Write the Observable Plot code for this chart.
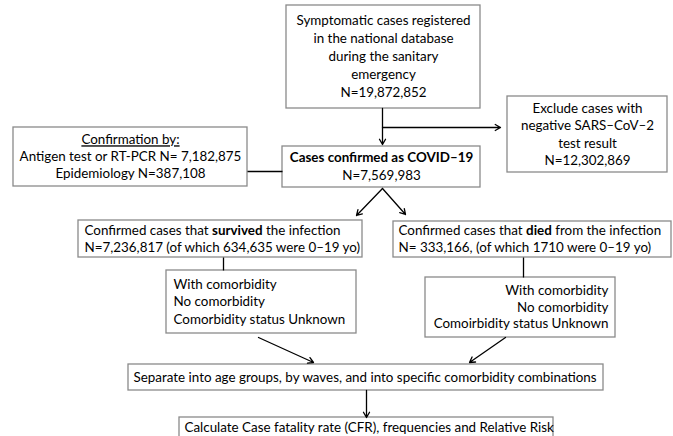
<!DOCTYPE html>
<html>
<head>
<meta charset="utf-8">
<script src="https://cdn.jsdelivr.net/npm/d3@7"></script>
<script src="https://cdn.jsdelivr.net/npm/@observablehq/plot@0.6"></script>
<style>
  html, body { margin: 0; padding: 0; background: white; }
  #chart { width: 673px; height: 436px; overflow: hidden; }
</style>
</head>
<body>
<div id="chart"></div>
<script>
// ---- chart text (data) ----
const topLines = ["Symptomatic cases registered", "in the national database", "during the sanitary", "emergency", "N=19,872,852"];
const excludeLines = ["Exclude cases with", "negative SARS–CoV–2", "test result", "N=12,302,869"];
const confirmByLines = ["Confirmation by:", "Antigen test or RT-PCR N= 7,182,875", "Epidemiology N=387,108"];
const confirmedLines = ["Cases confirmed as COVID–19", "N=7,569,983"];
const survivedLines = ["Confirmed cases that survived the infection", "N=7,236,817 (of which 634,635 were 0–19 yo)"];
const diedLines = ["Confirmed cases that died from the infection", "N= 333,166, (of which 1710 were 0–19 yo)"];
const survComorbLines = ["With comorbidity", "No comorbidity", "Comorbidity status Unknown"];
const diedComorbLines = ["With comorbidity", "No comorbidity", "Comoirbidity status Unknown"];
const separateLines = ["Separate into age groups, by waves, and into specific comorbidity combinations"];
const calcLines = ["Calculate Case fatality rate (CFR), frequencies and Relative Risk"];
const boldWords = ["survived", "died"];

// ---- layout (positions in pixel units of the flowchart) ----
const layout = [
  {lines: topLines,        x1: 286, x2: 480, y1: 5,   y2: 108, anchor: "middle", gap: 18},
  {lines: excludeLines,    x1: 507, x2: 667, y1: 96,  y2: 172, anchor: "middle", gap: 17.5},
  {lines: confirmByLines,  x1: 13,  x2: 247, y1: 127, y2: 186, anchor: "middle", gap: 17, underlineFirst: true},
  {lines: confirmedLines,  x1: 282, x2: 480, y1: 146, y2: 187, anchor: "middle", gap: 18, boldFirst: true},
  {lines: survivedLines,   x1: 78,  x2: 362, y1: 220, y2: 257, anchor: "start", gap: 17, pad: 6},
  {lines: diedLines,       x1: 393, x2: 671, y1: 221, y2: 257, anchor: "start", gap: 17, pad: 5},
  {lines: survComorbLines, x1: 166, x2: 356, y1: 270, y2: 333, anchor: "start", gap: 17.5, pad: 7},
  {lines: diedComorbLines, x1: 425, x2: 615, y1: 277, y2: 337, anchor: "end", gap: 16.5, pad: 7},
  {lines: separateLines,   x1: 128, x2: 603, y1: 364, y2: 390, anchor: "start", gap: 17, pad: 5},
  {lines: calcLines,       x1: 179, x2: 553, y1: 417, y2: 450, anchor: "start", gap: 17, pad: 5, cy: 427}
];
const arrows = [
  {x1: 382, y1: 108, x2: 382, y2: 144},
  {x1: 382, y1: 127, x2: 500, y2: 127},
  {x1: 382, y1: 188, x2: 356, y2: 215},
  {x1: 382, y1: 188, x2: 405, y2: 214},
  {x1: 258, y1: 337, x2: 313, y2: 362},
  {x1: 505, y1: 337, x2: 469, y2: 362},
  {x1: 366, y1: 390, x2: 366, y2: 417}
];
const links = [
  {x1: 247, y1: 171, x2: 282, y2: 171},
  {x1: 223, y1: 257, x2: 223, y2: 270},
  {x1: 523, y1: 257, x2: 523, y2: 277}
];

const textRows = [];
for (const b of layout) {
  const n = b.lines.length;
  const cy = b.cy ?? (b.y1 + b.y2) / 2;
  const pad = b.pad ?? 0;
  const x = b.anchor === "start" ? b.x1 + pad : b.anchor === "end" ? b.x2 - pad : (b.x1 + b.x2) / 2;
  b.lines.forEach((t, i) => {
    textRows.push({
      text: t, x, y: cy + (i - (n - 1) / 2) * b.gap, anchor: b.anchor,
      bold: !!(b.boldFirst && i === 0), underline: !!(b.underlineFirst && i === 0)
    });
  });
}

const FONT = "Lato, 'Open Sans', sans-serif";
const FS = 13.4;
const txt = (anchor, bold) => Plot.text(textRows.filter(d => d.anchor === anchor && d.bold === bold), {
  x: "x", y: "y", text: "text", textAnchor: anchor, fontSize: FS, fontFamily: FONT,
  fontWeight: bold ? "bold" : "normal", fill: "black"
});

const chart = Plot.plot({
  width: 673, height: 436, margin: 0,
  x: {domain: [0, 673], range: [0, 673], axis: null},
  y: {domain: [0, 436], range: [0, 436], axis: null},
  style: {background: "white", fontFamily: FONT},
  marks: [
    Plot.rect(layout, {x1: "x1", x2: "x2", y1: "y1", y2: "y2", fill: "white", stroke: "#8a8a8a", strokeWidth: 1.3}),
    Plot.link(links, {x1: "x1", y1: "y1", x2: "x2", y2: "y2", stroke: "black", strokeWidth: 1.3}),
    Plot.arrow(arrows, {x1: "x1", y1: "y1", x2: "x2", y2: "y2", stroke: "black", strokeWidth: 1.3, headLength: 7, bend: 0}),
    txt("middle", false), txt("middle", true), txt("start", false), txt("end", false)
  ]
});
document.getElementById("chart").appendChild(chart);

// mixed bold words and underline (kept as real text)
d3.select(chart).selectAll("text").each(function () {
  const el = this;
  const content = el.textContent;
  if (content === confirmByLines[0]) el.setAttribute("text-decoration", "underline");
  for (const w of boldWords) {
    const re = new RegExp("^(.*\\bthat )(" + w + ")( .*)$");
    const m = content.match(re);
    if (m) {
      el.textContent = "";
      const sel = d3.select(el);
      sel.append("tspan").text(m[1]);
      sel.append("tspan").attr("font-weight", "bold").text(m[2]);
      sel.append("tspan").text(m[3]);
    }
  }
});
</script>
</body>
</html>
